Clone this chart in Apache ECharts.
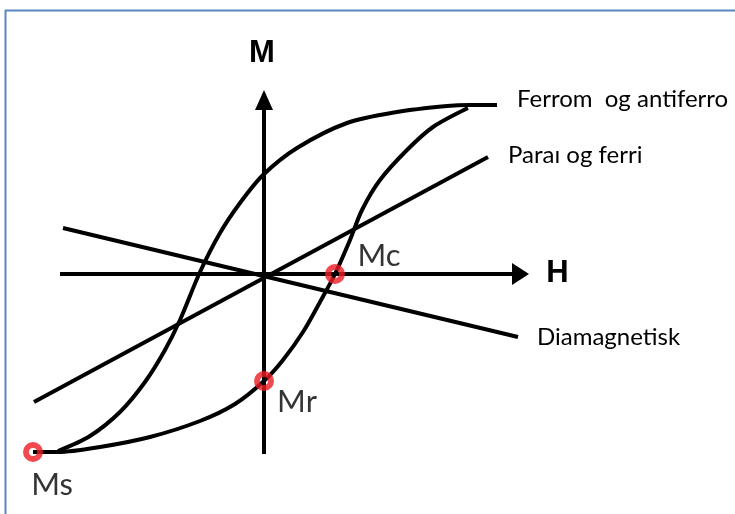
<!DOCTYPE html>
<html>
<head>
<meta charset="utf-8">
<script src="https://cdn.jsdelivr.net/npm/echarts@6/dist/echarts.min.js"></script>
<style>
  html, body { margin: 0; padding: 0; background: #fff; }
  #chart { width: 735px; height: 514px; }
</style>
</head>
<body>
<div id="chart"></div>
<script>
// hysterese - verdier i vilkaarlige enheter (H, M)
const upperBranch = [[-20.6, -17.7], [-17.4, -16.2], [-14.4, -13.8], [-11.9, -10.8], [-9.9, -7.6], [-8.4, -4.6],
  [-6.4, 0.2], [-4.4, 4.1], [-2.4, 7.1], [-0.1, 9.9], [3.3, 12.6], [8.3, 15.1], [13.3, 16.2], [18.3, 16.8],
  [20.6, 16.9], [23.3, 16.9]];
const lowerBranch = [[-23.1, -17.8], [-20.6, -17.8], [-16.4, -17.3], [-11.4, -16.3], [-6.4, -14.7], [-2.9, -13],
  [0, -10.7], [1.9, -8.6], [3.9, -5.8], [5.6, -2.8], [7.1, 0], [8.6, 3.4], [9.8, 6.4], [11.6, 9.4],
  [14.3, 12.4], [16.9, 14.7], [20.4, 16.6]];
const paraLine = [[-23, -12.8], [22.4, 11.7]];
const diaLine = [[-20.1, 4.6], [25.4, -6.3]];
const hAxisLine = [[-20.4, 0], [25.65, 0]];
const mAxisLine = [[0, -18], [0, 17.4]];
const markPts = [['Ms', -23.1, -17.8], ['Mr', 0, -10.7], ['Mc', 7.1, 0]];
const labelOffsets = { Ms: [19, 33], Mr: [33, 21], Mc: [44, -18] };

// synlig utsnitt av planet
const hRange = [-26.4, 47.1];
const mRange = [-24, 27.4];

const lineStyle = { color: '#000', width: 4 };
const txtFont = 'Lato, "Open Sans", sans-serif';
const boldFont = '"Liberation Sans", Arial, sans-serif';

let chart = echarts.init(document.getElementById('chart'));

// akselinje med pil i enden
function axisSeries(pts, arrowSize, arrowRotate, name, nameOffset) {
  return {
    type: 'line', showSymbol: true, clip: false, z: 3,
    lineStyle: lineStyle, itemStyle: { color: '#000' },
    data: [
      { value: pts[0], symbol: 'none' },
      {
        value: pts[1], symbol: 'triangle', symbolSize: arrowSize, symbolRotate: arrowRotate,
        label: {
          show: true, formatter: name, position: 'inside', offset: nameOffset,
          color: '#000', fontSize: 31, fontWeight: 'bold', fontFamily: boldFont
        }
      }
    ]
  };
}

const option = {
  animation: false,
  backgroundColor: '#fff',
  grid: { left: 0, right: 0, top: 0, bottom: 0 },
  xAxis: {
    type: 'value', min: hRange[0], max: hRange[1], show: false
  },
  yAxis: {
    type: 'value', min: mRange[0], max: mRange[1], show: false
  },
  graphic: [
    // ramme
    { type: 'line', shape: { x1: 5, y1: 10.5, x2: 735, y2: 10.5 }, style: { stroke: '#5a86c4', lineWidth: 2 } },
    { type: 'line', shape: { x1: 5.5, y1: 10, x2: 5.5, y2: 514 }, style: { stroke: '#5a86c4', lineWidth: 2 } }
  ],
  series: [
    axisSeries(hAxisLine, [22, 17], -90, 'H', [37, -1]),
    axisSeries(mAxisLine, [18, 20], 0, 'M', [-2, -47]),
    {
      type: 'line', data: upperBranch, smooth: 0.3, showSymbol: false, clip: false,
      lineStyle: lineStyle,
      endLabel: { show: true, formatter: 'Ferrom  og antiferro', distance: 20, offset: [0, -6],
        color: '#000', fontSize: 24, fontFamily: txtFont }
    },
    {
      type: 'line', data: lowerBranch, smooth: 0.3, showSymbol: false, clip: false,
      lineStyle: lineStyle
    },
    {
      type: 'line', data: paraLine, showSymbol: false, clip: false, lineStyle: lineStyle,
      endLabel: { show: true, formatter: 'Paraı og ferri', distance: 20, offset: [0, -2],
        color: '#000', fontSize: 24, fontFamily: txtFont }
    },
    {
      type: 'line', data: diaLine, showSymbol: false, clip: false, lineStyle: lineStyle,
      endLabel: { show: true, formatter: 'Diamagnetisk', distance: 19, offset: [0, 0],
        color: '#000', fontSize: 24, fontFamily: txtFont }
    },
    {
      type: 'scatter', clip: false, z: 5,
      symbol: 'circle', symbolSize: 14,
      itemStyle: { color: 'rgba(0,0,0,0)', borderColor: '#ed1c24', borderWidth: 6 },
      data: markPts.map(p => ({
        value: [p[1], p[2]],
        label: {
          show: true, formatter: p[0], position: 'inside', offset: labelOffsets[p[0]],
          color: '#000', fontSize: 31, fontFamily: txtFont
        }
      }))
    }
  ]
};

chart.setOption(option);
</script>
</body>
</html>
